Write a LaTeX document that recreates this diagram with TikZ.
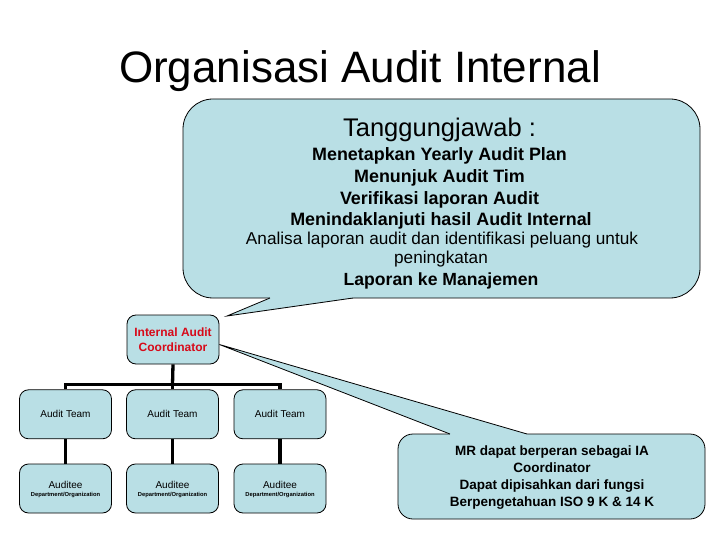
\documentclass[tikz,border=0pt]{standalone}
\usepackage{fontspec}
\setmainfont{Liberation Sans}
\definecolor{boxfill}{RGB}{185,223,229}
\definecolor{coordred}{RGB}{215,10,25}
\tikzset{
  orgbox/.style={draw=black, line width=0.8pt, fill=boxfill, rounded corners=9pt,
    minimum width=92pt, minimum height=49pt, inner sep=0pt, align=center},
  orgline/.style={line width=3.3pt, black},
  calloutline/.style={draw=black, line width=0.8pt},
  txt/.style={inner sep=0pt, anchor=base},
}
\begin{document}
\begin{tikzpicture}[x=1pt,y=-1pt]
\useasboundingbox[fill=white] (0,0) rectangle (720,540);

% title
\node[txt, font=\fontsize{44}{44}\selectfont] (title) at (360,82.5) {Organisasi Audit Internal};

% top callout
\draw[calloutline, fill=boxfill, rounded corners=30pt] (183,99) rectangle (700,298);
\coordinate (tipA) at (227,316);
\fill[boxfill] (270,295) -- (270,298) -- (tipA) -- (353,298) -- (353,295) -- cycle;
\draw[calloutline] (270,298) -- (tipA) -- (353,298);

\node[txt, font=\fontsize{25.5}{25.5}\selectfont] (t0) at (439.5,137) {Tanggungjawab :};
\node[txt, font=\fontsize{17.9}{17.9}\selectfont\bfseries] (t1) at (439.5,160.2) {Menetapkan Yearly Audit Plan};
\node[txt, font=\fontsize{17.9}{17.9}\selectfont\bfseries] (t2) at (439.5,182.5) {Menunjuk Audit Tim};
\node[txt, font=\fontsize{17.9}{17.9}\selectfont\bfseries] (t3) at (439.5,204.3) {Verifikasi laporan Audit};
\node[txt, font=\fontsize{17.9}{17.9}\selectfont\bfseries] (t4) at (441,225.3) {Menindaklanjuti hasil Audit Internal};
\node[txt, font=\fontsize{17.2}{17.2}\selectfont] (t5) at (442,244.3) {Analisa laporan audit dan identifikasi peluang untuk};
\node[txt, font=\fontsize{17.2}{17.2}\selectfont] (t6) at (441,263.3) {peningkatan};
\node[txt, font=\fontsize{17.6}{17.6}\selectfont\bfseries] (t7) at (441,285.7) {Laporan ke Manajemen};

% org boxes
\node[orgbox, font=\fontsize{12}{15}\selectfont\bfseries, text=coordred] (coord) at (173,339.5) {Internal Audit\\Coordinator};

% MR callout
\coordinate (tipB) at ([yshift=-5pt]coord.east);
\draw[calloutline, fill=boxfill, rounded corners=15pt] (398,434) rectangle (705,519);
\fill[boxfill] (450,437) -- (450,434) -- (tipB) -- (527,434) -- (527,437) -- cycle;
\draw[calloutline] (450,434) -- (tipB) -- (527,434);
\node[inner sep=0pt, align=center, font=\fontsize{13.5}{16.9}\selectfont\bfseries] (mr) at (552,477.8)
  {MR dapat berperan sebagai IA\\Coordinator\\Dapat dipisahkan dari fungsi\\Berpengetahuan ISO 9 K \& 14 K};

\node[orgbox, font=\fontsize{10}{10}\selectfont] (team1) at (65.5,414.3) {Audit Team};
\node[orgbox, font=\fontsize{10}{10}\selectfont] (team2) at (172.5,414.3) {Audit Team};
\node[orgbox, font=\fontsize{10}{10}\selectfont] (team3) at (280,414.3) {Audit Team};

\foreach \i/\x in {1/65.5,2/172.5,3/280}{
  \node[orgbox] (aud\i) at (\x,488.5) {};
  \node[txt, font=\fontsize{10}{10}\selectfont] (audt\i) at (aud\i.center) {Auditee};
  \node[txt, font=\fontsize{5.8}{5.8}\selectfont\bfseries] (audd\i) at ([yshift=-8.2pt]aud\i.center) {Department/Organization};
}

% connectors
\coordinate (bar) at (172.5,384.5);
\draw[orgline] (coord.south) -- (bar);
\draw[orgline] (team1.north) -- (team1.north |- bar) -- (team3.north |- bar) -- (team3.north);
\draw[orgline] (team2.north) -- (bar);
\foreach \i in {1,2,3}{
  \draw[orgline] (team\i.south) -- (aud\i.north);
}
\end{tikzpicture}
\end{document}
